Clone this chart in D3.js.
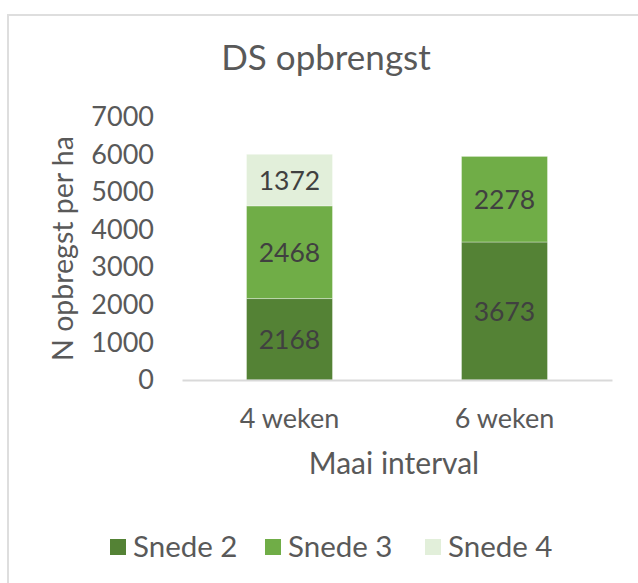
<!DOCTYPE html>
<html>
<head>
<meta charset="utf-8">
<script src="https://cdn.jsdelivr.net/npm/d3@7"></script>
<style>
  body { margin: 0; background: #fff; }
  svg { display: block; font-family: Lato, "Open Sans", sans-serif; }
</style>
</head>
<body>
<svg id="chart" width="638" height="583"></svg>
<script>
const categories = ["4 weken", "6 weken"];
const seriesNames = ["Snede 2", "Snede 3", "Snede 4"];
const snede2 = [2168, 3673];
const snede3 = [2468, 2278];
const snede4 = [1372, 0];
const yTicks = [0, 1000, 2000, 3000, 4000, 5000, 6000, 7000];
const colors = ["#548235", "#70ad47", "#e2efda"];
const title = "DS opbrengst";
const yTitle = "N opbregst per ha";
const xTitle = "Maai interval";

const data = categories.map((c, i) => ({cat: c, "Snede 2": snede2[i], "Snede 3": snede3[i], "Snede 4": snede4[i]}));
const svg = d3.select("#chart");

// chart frame
svg.append("rect").attr("x", 8).attr("y", 15).attr("width", 640).attr("height", 580)
  .attr("fill", "#fff").attr("stroke", "#dedede").attr("stroke-width", 2);

const plot = {left: 182, right: 612, top: 117, bottom: 380};
const x = d3.scaleBand().domain(categories).range([plot.left, plot.right]).paddingInner(0.6).paddingOuter(0.3);
const y = d3.scaleLinear().domain([0, 7000]).range([plot.bottom, plot.top]);

const stack = d3.stack().keys(seriesNames)(data);

const g = svg.append("g");
stack.forEach((layer, li) => {
  g.selectAll(null).data(layer.filter(d => d[1] - d[0] > 0)).enter().append("rect")
    .attr("x", d => x(d.data.cat))
    .attr("width", x.bandwidth())
    .attr("y", d => y(d[1]))
    .attr("height", d => y(d[0]) - y(d[1]))
    .attr("fill", colors[li])
    .attr("stroke", "rgba(255,255,255,0.35)")
    .attr("stroke-width", 1);
});
// data labels
stack.forEach((layer, li) => {
  g.selectAll(null).data(layer.filter(d => d[1] - d[0] > 0)).enter().append("text")
    .attr("x", d => x(d.data.cat) + x.bandwidth() / 2)
    .attr("y", d => (y(d[0]) + y(d[1])) / 2)
    .attr("dy", "0.36em")
    .attr("text-anchor", "middle")
    .attr("font-size", 26.5)
    .attr("fill", "#404040")
    .text(d => d[1] - d[0]);
});

// x axis line
const xAxis = d3.axisBottom(x).tickSize(0).tickPadding(0);
const xg = svg.append("g").attr("transform", `translate(0,${plot.bottom})`).call(xAxis);
xg.select(".domain").attr("stroke", "#d9d9d9").attr("stroke-width", 2);
xg.selectAll("text").attr("font-size", 27).attr("fill", "#595959").attr("font-family", "Lato, sans-serif")
  .attr("y", 48).attr("dy", null);

// y axis
const yAxis = d3.axisLeft(y).tickValues(yTicks).tickFormat(d3.format("d")).tickSize(0).tickPadding(0);
const yg = svg.append("g").attr("transform", `translate(154,0)`).call(yAxis);
yg.select(".domain").remove();
yg.selectAll("text").attr("font-size", 27).attr("fill", "#595959").attr("font-family", "Lato, sans-serif");

// titles
svg.append("text").attr("x", 326).attr("y", 70).attr("text-anchor", "middle")
  .attr("font-size", 35).attr("fill", "#595959").text(title);
svg.append("text").attr("transform", `translate(73,${(plot.top + plot.bottom) / 2}) rotate(-90)`)
  .attr("text-anchor", "middle").attr("font-size", 28.5).attr("fill", "#595959").text(yTitle);
svg.append("text").attr("x", (plot.left + plot.right) / 2 - 3).attr("y", 474).attr("text-anchor", "middle")
  .attr("font-size", 30).attr("fill", "#595959").text(xTitle);

// legend
const legendX = [110, 265, 425];
const lg = svg.append("g");
seriesNames.forEach((s, i) => {
  lg.append("rect").attr("x", legendX[i]).attr("y", 539).attr("width", 16).attr("height", 16).attr("fill", colors[i]);
  lg.append("text").attr("x", legendX[i] + 23).attr("y", 557).attr("font-size", 29.5).attr("fill", "#595959").text(s);
});
</script>
</body>
</html>
